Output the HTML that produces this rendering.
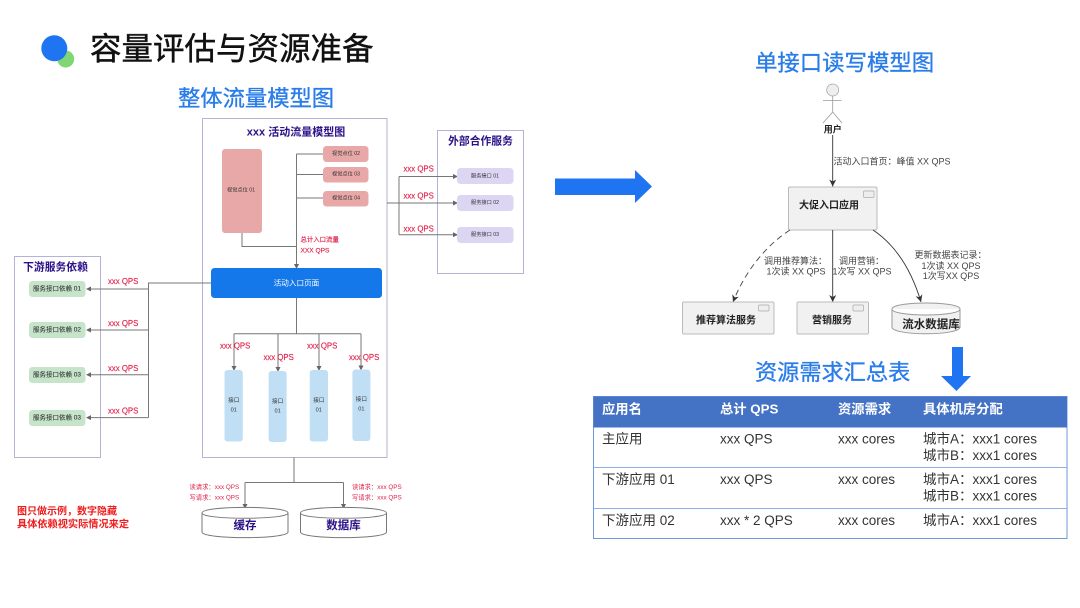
<!DOCTYPE html>
<html lang="zh"><head><meta charset="utf-8"><title>容量评估与资源准备</title>
<style>
html,body{margin:0;padding:0;background:#fff;width:1080px;height:608px;overflow:hidden}
svg{display:block}
text{font-family:"Liberation Sans","Noto Sans CJK SC",sans-serif;dominant-baseline:central}
.c{text-anchor:middle}
.h{fill:#2a7de8;stroke:#2a7de8;stroke-width:.35}
.red{fill:#e0244c;font-size:7.8px;stroke:#e0244c;stroke-width:.15}
.rs{fill:#e0244c;font-size:6.3px}
.pur{fill:#2b1088;font-weight:700}
.dk{fill:#333;font-size:5.2px}
.g{fill:#333;font-size:6.5px;stroke:#333;stroke-width:.08}
.l{fill:#444;font-size:9px}
.n{fill:#222;font-size:10px;font-weight:700}
.t{fill:#333;font-size:13.5px}
.th{fill:#fff;font-size:13.3px;font-weight:700}
.ln{stroke:#777;stroke-width:1;fill:none}
.box{fill:#fff;stroke:#b3b3d6;stroke-width:1}
</style></head><body>
<svg width="1080" height="608" viewBox="0 0 1080 608" xmlns="http://www.w3.org/2000/svg">
<defs>
<marker id="a" markerWidth="5" markerHeight="5" refX="4" refY="2.5" orient="auto" markerUnits="userSpaceOnUse"><path d="M0 0L5 2.5L0 5z" fill="#666"/></marker>
<marker id="b" markerWidth="8" markerHeight="8" refX="7" refY="4" orient="auto" markerUnits="userSpaceOnUse"><path d="M0 0.5L7 4L0 7.5L2 4z" fill="#333"/></marker>
</defs>
<rect width="1080" height="608" fill="#fff"/>

<!-- header -->
<circle cx="65.7" cy="59" r="8.5" fill="#7fd672"/>
<circle cx="54.3" cy="48.3" r="13" fill="#1f74f2"/>
<text x="90" y="48.5" font-size="31.5" fill="#111" stroke="#111" stroke-width=".45">容量评估与资源准备</text>
<text x="178" y="98.5" class="h" font-size="22.3">整体流量模型图</text>

<!-- main box -->
<rect x="202.5" y="118.5" width="184.5" height="339" class="box"/>
<text x="296" y="132.5" class="c pur" font-size="11">xxx 活动流量模型图</text>
<rect x="222" y="149" width="40" height="84" rx="3" fill="#e9a8a8"/>
<text x="241" y="190.5" class="c dk">视觉点位 01</text>
<rect x="323" y="146" width="45.5" height="16" rx="3.5" fill="#e9a8a8"/>
<rect x="323" y="167" width="45.5" height="15.5" rx="3.5" fill="#e9a8a8"/>
<rect x="323" y="191" width="45.5" height="15.5" rx="3.5" fill="#e9a8a8"/>
<text x="346" y="154" class="c dk">视觉点位 02</text>
<text x="346" y="174.5" class="c dk">视觉点位 03</text>
<text x="346" y="198.5" class="c dk">视觉点位 04</text>
<path d="M296.5 154H323M296.5 174.5H323M296.5 198H323M242 233V246.5H296.5" class="ln"/>
<path d="M296.5 154V268" class="ln" marker-end="url(#a)"/>
<text x="300.5" y="240" class="red" style="font-size:6.4px">总计入口流量</text>
<text x="300.5" y="251" class="red" style="font-size:6.6px">XXX QPS</text>
<rect x="211" y="268" width="171" height="30" rx="3.5" fill="#1478ea"/>
<text x="296.5" y="283" class="c" font-size="7.6" fill="#fff">活动入口页面</text>

<!-- right group -->
<rect x="437.5" y="130.5" width="86" height="143" class="box"/>
<text x="480.5" y="141.5" class="c pur" font-size="10.8">外部合作服务</text>
<path d="M387 203H399M399 176.5V234.7" class="ln"/>
<path d="M399 176.5H457" class="ln" marker-end="url(#a)"/>
<path d="M399 203H457" class="ln" marker-end="url(#a)"/>
<path d="M399 234.7H457" class="ln" marker-end="url(#a)"/>
<rect x="457" y="168" width="56.5" height="16" rx="3.5" fill="#dcd6f2"/>
<rect x="457" y="195" width="56.5" height="16" rx="3.5" fill="#dcd6f2"/>
<rect x="457" y="227" width="56.5" height="16" rx="3.5" fill="#dcd6f2"/>
<text x="485" y="176.5" class="c dk">服务接口 01</text>
<text x="485" y="203" class="c dk">服务接口 02</text>
<text x="485" y="235" class="c dk">服务接口 03</text>
<text x="403.5" y="169" class="red">xxx QPS</text>
<text x="403.5" y="196" class="red">xxx QPS</text>
<text x="403.5" y="229" class="red">xxx QPS</text>

<!-- left group -->
<rect x="14.5" y="256.5" width="86" height="201" class="box"/>
<text x="55.5" y="267.5" class="c pur" font-size="10.8">下游服务依赖</text>
<path d="M211 283H148.5V417.6" class="ln"/>
<path d="M148.5 289H87" class="ln" marker-end="url(#a)"/>
<path d="M148.5 330H87" class="ln" marker-end="url(#a)"/>
<path d="M148.5 374.7H87" class="ln" marker-end="url(#a)"/>
<path d="M148.5 417.6H87" class="ln" marker-end="url(#a)"/>
<rect x="29" y="281" width="56.5" height="16" rx="3.5" fill="#c6e4ca"/>
<rect x="29" y="322" width="56.5" height="16" rx="3.5" fill="#c6e4ca"/>
<rect x="29" y="367" width="56.5" height="16" rx="3.5" fill="#c6e4ca"/>
<rect x="29" y="410" width="56.5" height="16" rx="3.5" fill="#c6e4ca"/>
<text x="57" y="289" class="c g">服务接口依赖 01</text>
<text x="57" y="330" class="c g">服务接口依赖 02</text>
<text x="57" y="375" class="c g">服务接口依赖 03</text>
<text x="57" y="418" class="c g">服务接口依赖 03</text>
<text x="108" y="281.5" class="red">xxx QPS</text>
<text x="108" y="323.5" class="red">xxx QPS</text>
<text x="108" y="368.5" class="red">xxx QPS</text>
<text x="108" y="411" class="red">xxx QPS</text>

<!-- interfaces -->
<path d="M296.5 298V333.7M234 333.7H361" class="ln"/>
<path d="M234 333.7V370" class="ln" marker-end="url(#a)"/>
<path d="M278 333.7V371" class="ln" marker-end="url(#a)"/>
<path d="M319 333.7V370" class="ln" marker-end="url(#a)"/>
<path d="M361 333.7V369.5" class="ln" marker-end="url(#a)"/>
<rect x="224.5" y="370" width="18.3" height="71.5" rx="3" fill="#c0dff4"/>
<rect x="268.6" y="371" width="18" height="71" rx="3" fill="#c0dff4"/>
<rect x="309.7" y="370" width="18.3" height="71.5" rx="3" fill="#c0dff4"/>
<rect x="352.4" y="369.5" width="18" height="71.5" rx="3" fill="#c0dff4"/>
<text x="233.7" y="401" class="c dk" style="font-size:5.6px">接口</text><text x="233.7" y="410.5" class="c dk" style="font-size:5.6px">01</text>
<text x="277.6" y="402" class="c dk" style="font-size:5.6px">接口</text><text x="277.6" y="411.5" class="c dk" style="font-size:5.6px">01</text>
<text x="318.8" y="401" class="c dk" style="font-size:5.6px">接口</text><text x="318.8" y="410.5" class="c dk" style="font-size:5.6px">01</text>
<text x="361.4" y="400" class="c dk" style="font-size:5.6px">接口</text><text x="361.4" y="409.5" class="c dk" style="font-size:5.6px">01</text>
<text x="220" y="346" class="red">xxx QPS</text>
<text x="263.5" y="357.5" class="red">xxx QPS</text>
<text x="307" y="346" class="red">xxx QPS</text>
<text x="349" y="357.5" class="red">xxx QPS</text>

<!-- bottom storage -->
<path d="M294 457.5V482.5M245 482.5H343.5" class="ln"/>
<path d="M245 482.5V508" class="ln" marker-end="url(#a)"/>
<path d="M343.5 482.5V508" class="ln" marker-end="url(#a)"/>
<text x="189.5" y="487.5" class="rs">读请求：xxx QPS</text>
<text x="189.5" y="498" class="rs">写请求：xxx QPS</text>
<text x="352" y="487.5" class="rs">读请求：xxx QPS</text>
<text x="352" y="498" class="rs">写请求：xxx QPS</text>
<path d="M202 513C202 505.5 288 505.5 288 513V532C288 539.5 202 539.5 202 532ZM202 513C202 520 288 520 288 513" fill="#fff" stroke="#777"/>
<path d="M300.5 513C300.5 505.5 386.5 505.5 386.5 513V532C386.5 539.5 300.5 539.5 300.5 532ZM300.5 513C300.5 520 386.5 520 386.5 513" fill="#fff" stroke="#777"/>
<text x="245" y="526" class="c pur" font-size="11.5">缓存</text>
<text x="343.5" y="526" class="c pur" font-size="11.5">数据库</text>
<text x="17" y="512" font-size="10" font-weight="700" fill="#ee1c1c">图只做示例，数字隐藏</text>
<text x="17" y="525" font-size="10.2" font-weight="700" fill="#ee1c1c">具体依赖视实际情况来定</text>

<!-- big arrow -->
<path d="M555 178.5H635V170L652 186.5L635 203V195H555Z" fill="#1f74f2"/>

<!-- right diagram -->
<text x="755" y="63" class="h" font-size="22.4">单接口读写模型图</text>
<circle cx="832.7" cy="90" r="6" fill="#eee" stroke="#aaa" stroke-width=".8"/>
<path d="M832.7 96V112M823 100.6H841.5M832.7 112L823 123M832.7 112L842 123" stroke="#999" stroke-width=".8" fill="none"/>
<text x="832.7" y="129.5" class="c" font-size="9" font-weight="700" fill="#222">用户</text>
<path d="M832.7 135V186.5" stroke="#333" stroke-width=".9" fill="none" marker-end="url(#b)"/>
<text x="833.5" y="161.5" class="l">活动入口首页：峰值 XX QPS</text>
<rect x="788.5" y="187" width="88.5" height="43" rx="1.5" fill="#f1f1f1" stroke="#bbb"/>
<rect x="863.5" y="191" width="10.5" height="6.5" rx="1" fill="#eee" stroke="#aaa" stroke-width=".7"/>
<text x="829" y="206" class="c n">大促入口应用</text>
<path d="M790 230C765 246 745 272 733 302" stroke="#444" stroke-width=".9" stroke-dasharray="6 4" fill="none" marker-end="url(#b)"/>
<path d="M832.7 230V302" stroke="#333" stroke-width=".9" fill="none" marker-end="url(#b)"/>
<path d="M873 230C897 246 912 272 921 302" stroke="#333" stroke-width=".9" fill="none" marker-end="url(#b)"/>
<text x="795.5" y="261" class="c l">调用推荐算法：</text>
<text x="796" y="271.5" class="c l">1次读 XX QPS</text>
<text x="861.5" y="261" class="c l">调用营销：</text>
<text x="862" y="271.5" class="c l">1次写 XX QPS</text>
<text x="950.5" y="255" class="c l">更新数据表记录：</text>
<text x="951" y="266" class="c l">1次读 XX QPS</text>
<text x="951" y="276" class="c l">1次写XX QPS</text>
<rect x="682.5" y="302" width="91.5" height="32" rx="1.5" fill="#f1f1f1" stroke="#bbb"/>
<rect x="758.5" y="305" width="10.5" height="6" rx="1" fill="#eee" stroke="#aaa" stroke-width=".7"/>
<text x="726" y="321" class="c n">推荐算法服务</text>
<rect x="797" y="302" width="71.5" height="32" rx="1.5" fill="#f1f1f1" stroke="#bbb"/>
<rect x="853" y="305" width="10.5" height="6" rx="1" fill="#eee" stroke="#aaa" stroke-width=".7"/>
<text x="832" y="321" class="c n">营销服务</text>
<path d="M892 309C892 301 960 301 960 309V327C960 336 892 336 892 327ZM892 309C892 317 960 317 960 309" fill="#f1f1f1" stroke="#999"/>
<text x="931" y="325" class="c n" style="font-size:11.5px">流水数据库</text>

<!-- table section -->
<path d="M952 347H963V376H971L956.5 391L941 376H952Z" fill="#1f74f2"/>
<text x="755" y="372.5" class="h" font-size="22.2">资源需求汇总表</text>
<rect x="593.5" y="396.5" width="473.5" height="142" fill="#fff" stroke="#6f97da"/>
<rect x="593.5" y="396.5" width="473.5" height="31" fill="#4472c4"/>
<path d="M593.5 467.5H1067M593.5 508.5H1067" stroke="#8daee6" stroke-width="1"/>
<text x="602" y="409" class="th">应用名</text>
<text x="720" y="409" class="th">总计 QPS</text>
<text x="838" y="409" class="th">资源需求</text>
<text x="923" y="409" class="th">具体机房分配</text>
<text x="602" y="439" class="t">主应用</text>
<text x="720" y="439" class="t">xxx QPS</text>
<text x="838" y="439" class="t">xxx cores</text>
<text x="923" y="439" class="t">城市A：xxx1 cores</text>
<text x="923" y="455.5" class="t">城市B：xxx1 cores</text>
<text x="602" y="479.5" class="t">下游应用 01</text>
<text x="720" y="479.5" class="t">xxx QPS</text>
<text x="838" y="479.5" class="t">xxx cores</text>
<text x="923" y="479.5" class="t">城市A：xxx1 cores</text>
<text x="923" y="496" class="t">城市B：xxx1 cores</text>
<text x="602" y="520.5" class="t">下游应用 02</text>
<text x="720" y="520.5" class="t">xxx * 2 QPS</text>
<text x="838" y="520.5" class="t">xxx cores</text>
<text x="923" y="520.5" class="t">城市A：xxx1 cores</text>
</svg>
</body></html>
